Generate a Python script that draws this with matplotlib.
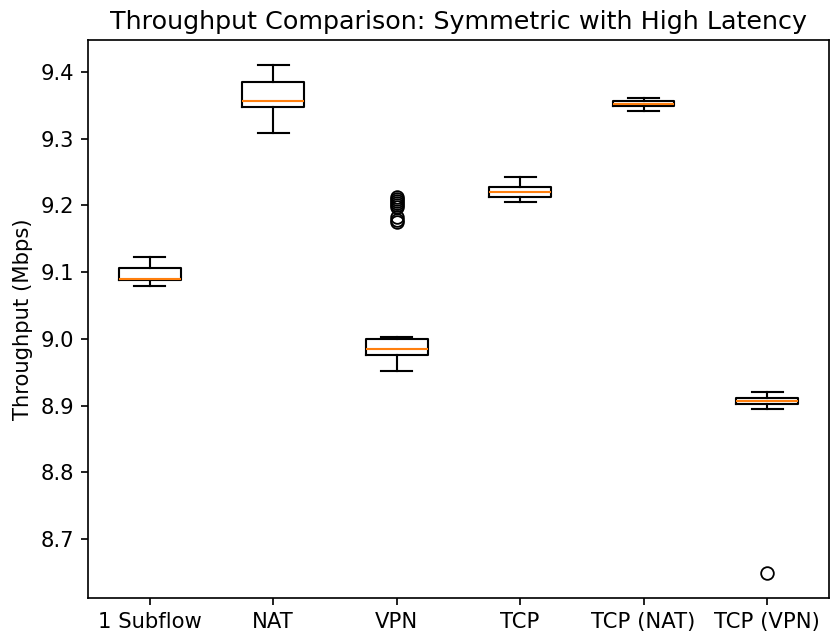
import numpy as np
import matplotlib.pyplot as plt

labels = ['1 Subflow', 'NAT', 'VPN', 'TCP', 'TCP (NAT)', 'TCP (VPN)']

# box statistics (Mbps)
whislo = [9.080, 9.309, 8.952, 9.2045, 9.342, 8.895]
q1 = [9.089, 9.348, 8.976, 9.213, 9.349, 8.902]
med = [9.090, 9.356, 8.985, 9.2195, 9.352, 8.9075]
q3 = [9.107, 9.385, 9.000, 9.228, 9.356, 8.911]
whishi = [9.123, 9.410, 9.003, 9.243, 9.361, 8.920]
fliers = [
    [],
    [],
    [9.212, 9.209, 9.206, 9.203, 9.200, 9.197, 9.183, 9.179, 9.175],
    [],
    [],
    [8.650],
]

stats = []
for i, lab in enumerate(labels):
    stats.append(dict(label=lab, whislo=whislo[i], q1=q1[i], med=med[i],
                      q3=q3[i], whishi=whishi[i], fliers=fliers[i]))

# reference looks like the default style scaled up a bit
s = 1.17
plt.rcParams.update({
    'font.size': 10 * s,
    'axes.linewidth': 0.8 * s,
    'lines.linewidth': 1.0 * s,
    'lines.markersize': 6 * s,
    'xtick.major.width': 0.8 * s,
    'ytick.major.width': 0.8 * s,
    'xtick.major.size': 3.5 * s,
    'ytick.major.size': 3.5 * s,
    'boxplot.boxprops.linewidth': 1.0 * s,
    'boxplot.whiskerprops.linewidth': 1.0 * s,
    'boxplot.capprops.linewidth': 1.0 * s,
    'boxplot.medianprops.linewidth': 1.0 * s,
    'boxplot.flierprops.markersize': 6 * s,
    'boxplot.flierprops.linewidth': 1.0 * s,
})

fig = plt.figure(figsize=(833 / 130, 634 / 130), dpi=130)
ax = fig.add_axes([0.1056, 0.0568, 0.8894, 0.8802])
ax.bxp(stats, showfliers=True)
ax.set_ylabel("Throughput (Mbps)")
ax.set_title("Throughput Comparison: Symmetric with High Latency")
fig.savefig('out.png', dpi=130)
